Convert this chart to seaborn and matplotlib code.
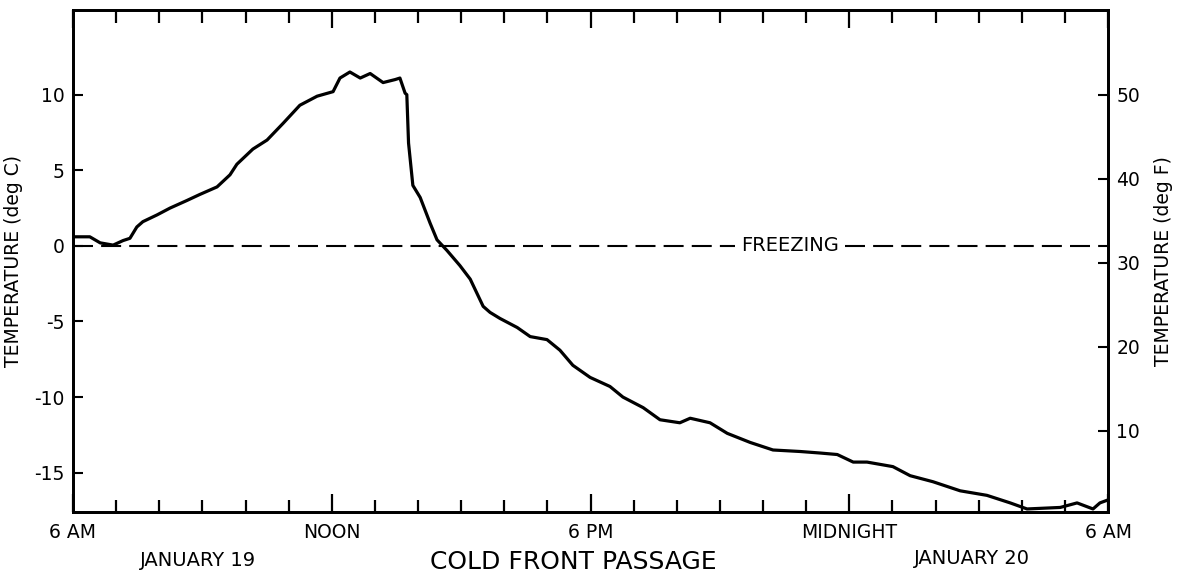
import numpy as np
import pandas as pd
import matplotlib
matplotlib.use('Agg')
import matplotlib.pyplot as plt
import seaborn as sns

# hours after 6 AM, January 19
hours = [0.0, 0.21, 0.39, 0.63, 0.93, 1.16, 1.32, 1.48, 1.62, 1.95, 2.25, 2.64, 2.94,
         3.34, 3.64, 3.80, 4.17, 4.50, 4.87, 5.26, 5.66, 6.03, 6.19, 6.42, 6.66, 6.89,
         7.19, 7.47, 7.58, 7.70, 7.74, 7.78, 7.88, 8.05, 8.28, 8.44, 8.67, 8.97, 9.21,
         9.51, 9.67, 9.90, 10.30, 10.60, 10.99, 11.29, 11.59, 11.99, 12.45, 12.75,
         13.22, 13.61, 14.07, 14.31, 14.77, 15.17, 15.70, 16.23, 16.86, 17.32, 17.72,
         18.09, 18.41, 19.01, 19.41, 19.94, 20.57, 21.19, 21.73, 22.12, 22.89, 23.28,
         23.65, 23.81, 24.0]
temp_c = [0.6, 0.6, 0.6, 0.2, 0.05, 0.35, 0.5, 1.25, 1.6, 2.05, 2.5, 3.0, 3.4,
          3.9, 4.7, 5.4, 6.4, 7.0, 8.1, 9.3, 9.9, 10.2, 11.1, 11.5, 11.1, 11.4,
          10.8, 11.0, 11.1, 10.1, 10.0, 6.8, 4.0, 3.2, 1.5, 0.4, -0.3, -1.3, -2.2,
          -4.0, -4.4, -4.8, -5.4, -6.0, -6.2, -6.9, -7.9, -8.7, -9.3, -10.0,
          -10.7, -11.5, -11.7, -11.4, -11.7, -12.4, -13.0, -13.5, -13.6, -13.7, -13.8,
          -14.3, -14.3, -14.6, -15.2, -15.6, -16.2, -16.5, -17.0, -17.4, -17.3, -17.0,
          -17.4, -17.0, -16.8]

major_pos = [0, 6, 12, 18, 24]
major_labels = ['6 AM', 'NOON', '6 PM', 'MIDNIGHT', '6 AM']
c_ticks = [-15, -10, -5, 0, 5, 10]
f_ticks = [10, 20, 30, 40, 50]

df = pd.DataFrame({'hours': hours, 'temp_c': temp_c})

sns.set_theme(style='ticks')
plt.rcParams['font.family'] = ['DejaVu Sans']
plt.rcParams.update({'text.color': 'black', 'axes.labelcolor': 'black',
                     'xtick.color': 'black', 'ytick.color': 'black'})

fig = plt.figure(figsize=(11.83, 5.75), dpi=100)
ax = fig.add_axes([0.0617, 0.1096, 0.875, 0.873])

sns.lineplot(data=df, x='hours', y='temp_c', ax=ax, color='black', linewidth=2.3)

# freezing line, broken for its label
ax.hlines(0, 0, 15.35, colors='black', linestyles=(0, (9.6, 3.9)), linewidth=1.5)
ax.hlines(0, 17.9, 24, colors='black', linestyles=(0, (9.6, 3.9)), linewidth=1.5)
ax.text(16.63, 0, 'FREEZING', ha='center', va='center', fontsize=14)

ylo, yhi = -17.6, 15.6
ax.set_xlim(0, 24)
ax.set_ylim(ylo, yhi)
ax.set_xticks(major_pos)
ax.set_xticklabels(major_labels, fontsize=13.5)
ax.set_xticks(np.arange(0, 25, 1), minor=True)
ax.set_yticks(c_ticks)
ax.set_yticklabels([str(v) for v in c_ticks], fontsize=13.5)
ax.tick_params(axis='x', which='major', direction='in', length=13, width=1.6,
               top=True, bottom=True, pad=8)
ax.tick_params(axis='x', which='minor', direction='in', length=9, width=1.6,
               top=True, bottom=True)
ax.tick_params(axis='y', which='major', direction='in', length=7, width=1.5, pad=6)
ax.set_xlabel('')
ax.set_ylabel('TEMPERATURE (deg C)', fontsize=13.5, labelpad=8)
for sp in ax.spines.values():
    sp.set_linewidth(2)
    sp.set_color('black')

ax2 = ax.twinx()
ax2.set_ylim(ylo * 9 / 5 + 32, yhi * 9 / 5 + 32)
ax2.set_yticks(f_ticks)
ax2.set_yticklabels([str(v) for v in f_ticks], fontsize=13.5)
ax2.tick_params(axis='y', direction='in', length=7, width=1.5, pad=6)
ax2.set_ylabel('TEMPERATURE (deg F)', fontsize=13.5, labelpad=10)
for sp in ax2.spines.values():
    sp.set_linewidth(2)
    sp.set_color('black')

fig.text(198 / 1183, 1 - 561 / 575, 'JANUARY 19', ha='center', va='center', fontsize=14)
fig.text(573 / 1183, 1 - 562 / 575, 'COLD FRONT PASSAGE', ha='center', va='center', fontsize=18)
fig.text(972 / 1183, 1 - 559 / 575, 'JANUARY 20', ha='center', va='center', fontsize=14)

fig.savefig('out.png', dpi=100, facecolor='white')
